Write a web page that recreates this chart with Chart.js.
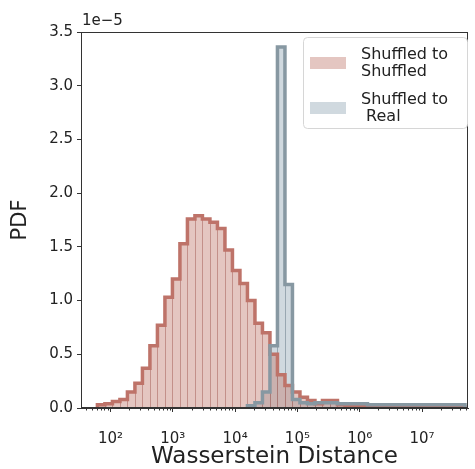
<!DOCTYPE html>
<html>
<head>
<meta charset="utf-8">
<title>Wasserstein distance histogram</title>
<script src="https://cdn.jsdelivr.net/npm/chart.js@4.4.1/dist/chart.umd.min.js"></script>
<style>
    html, body { margin: 0; padding: 0; background: #ffffff; }
    #wrap { width: 475px; height: 469px; }
</style>
</head>
<body>
<div id="wrap"><canvas id="histChart" width="475" height="469"></canvas></div>
<script>
// Log-spaced histogram bins shared by both series (log10 of the distance)
const binStartLog = 1.79;
const binWidthLog = 0.1204;

// PDF per bin, in units of 1e-5
const shuffledToShuffled = [
    0.03, 0.04, 0.06, 0.08, 0.15, 0.23, 0.37, 0.58, 0.77, 1.03,
    1.20, 1.53, 1.76, 1.79, 1.76, 1.73, 1.67, 1.47, 1.28, 1.16,
    1.00, 0.79, 0.70, 0.50, 0.31, 0.21, 0.15, 0.10, 0.07, 0.04,
    0.07, 0.07, 0.03, 0.02, 0.02, 0.02, 0.02, 0.02, 0.02, 0.02,
    0.01, 0.01, 0.01, 0.01, 0.01, 0.01, 0.01, 0.01, 0.01
];
const shuffledToReal = [
    0, 0, 0, 0, 0, 0, 0, 0, 0, 0,
    0, 0, 0, 0, 0, 0, 0, 0, 0, 0,
    0.02, 0.05, 0.15, 0.58, 3.36, 1.15, 0.08, 0.05, 0.04, 0.05,
    0.05, 0.05, 0.04, 0.04, 0.04, 0.04, 0.03, 0.03, 0.03, 0.03,
    0.03, 0.03, 0.03, 0.03, 0.03, 0.03, 0.03, 0.03, 0.03
];

const legendLines = [['Shuffled to', 'Shuffled'], ['Shuffled to', ' Real']];
const xTickExponents = [2, 3, 4, 5, 6, 7];
const xRangeLog = [1.5265, 7.738];
const yMax = 3.5;
const yStep = 0.5;
const offsetText = '1e\u22125';

const FONT = '"DejaVu Sans", sans-serif';
const redFill = 'rgba(196, 128, 118, 0.45)';
const redLine = '#be7369';
const greyFill = 'rgba(150, 170, 185, 0.45)';
const greyLine = '#8798a2';

function binEdge(i) {
    return Math.pow(10, binStartLog + i * binWidthLog);
}

// step outline points: up at the first filled bin, down after the last one
function histPoints(values) {
    let first = 0;
    while (first < values.length && values[first] === 0) first++;
    let last = values.length - 1;
    while (last > first && values[last] === 0) last--;
    const pts = [{ x: binEdge(first), y: 0 }];
    for (let i = first; i <= last; i++) {
        pts.push({ x: binEdge(i), y: values[i] });
    }
    pts.push({ x: binEdge(last + 1), y: 0 });
    return pts;
}

const supDigits = { '0': '\u2070', '1': '\u00b9', '2': '\u00b2', '3': '\u00b3', '4': '\u2074',
    '5': '\u2075', '6': '\u2076', '7': '\u2077', '8': '\u2078', '9': '\u2079' };
function powerLabel(exp) {
    return '10' + String(exp).split('').map(d => supDigits[d]).join('');
}

// thin bar edges inside each filled histogram
const binEdgeLines = {
    id: 'binEdgeLines',
    afterDatasetDraw(chart, args) {
        const ds = chart.data.datasets[args.index];
        if (!ds.binValues) return;
        const { ctx } = chart;
        const x = chart.scales.x, y = chart.scales.y;
        const vals = ds.binValues;
        ctx.save();
        ctx.strokeStyle = ds.edgeColor;
        ctx.lineWidth = 1;
        for (let i = 1; i < vals.length; i++) {
            const h = Math.max(vals[i - 1], vals[i]);
            if (h <= 0) continue;
            const px = Math.round(x.getPixelForValue(binEdge(i))) + 0.5;
            ctx.beginPath();
            ctx.moveTo(px, y.getPixelForValue(0));
            ctx.lineTo(px, y.getPixelForValue(Math.min(vals[i - 1], vals[i]) || h));
            ctx.stroke();
        }
        ctx.restore();
    }
};

// axes frame, log minor ticks, offset text and legend box
const decorations = {
    id: 'decorations',
    afterDatasetsDraw(chart) {
        const { ctx, chartArea: a } = chart;
        const x = chart.scales.x;
        ctx.save();
        ctx.strokeStyle = '#333333';
        ctx.lineWidth = 1;
        ctx.strokeRect(a.left + 0.5, a.top + 0.5, a.right - a.left - 1, a.bottom - a.top - 1);
        for (let n = 1; n <= 7; n++) {
            for (let k = 2; k <= 9; k++) {
                const v = k * Math.pow(10, n);
                if (v < x.min || v > x.max) continue;
                const px = Math.round(x.getPixelForValue(v)) + 0.5;
                ctx.beginPath();
                ctx.moveTo(px, a.bottom);
                ctx.lineTo(px, a.bottom + 2.5);
                ctx.stroke();
            }
        }
        ctx.restore();
    },
    afterDraw(chart) {
        const { ctx, chartArea: a } = chart;
        ctx.save();
        ctx.fillStyle = '#222222';
        ctx.font = '15px ' + FONT;
        ctx.textAlign = 'left';
        ctx.textBaseline = 'bottom';
        ctx.fillText(offsetText, a.left + 1, a.top - 3);

        // legend
        const bw = 164, bh = 91;
        const bx = a.right - bw - 1, by = a.top + 5;
        ctx.beginPath();
        ctx.roundRect(bx + 0.5, by + 0.5, bw, bh, 4);
        ctx.fillStyle = 'rgba(255, 255, 255, 0.8)';
        ctx.fill();
        ctx.strokeStyle = '#d6d6d6';
        ctx.stroke();

        const fills = [redFill, greyFill];
        ctx.font = '16px ' + FONT;
        ctx.textBaseline = 'middle';
        legendLines.forEach((lines, i) => {
            const top = by + 18 + i * 45;
            ctx.fillStyle = '#ffffff';
            ctx.fillRect(bx + 7, top + 2, 36, 12);
            ctx.fillStyle = fills[i];
            ctx.fillRect(bx + 7, top + 2, 36, 12);
            ctx.fillStyle = '#222222';
            lines.forEach((t, j) => ctx.fillText(t, bx + 58, top + j * 16.5));
        });
        ctx.restore();
    }
};

const redPts = histPoints(shuffledToShuffled);
const greyPts = histPoints(shuffledToReal);

new Chart(document.getElementById('histChart'), {
    type: 'line',
    data: {
        datasets: [
            { label: 'Shuffled to Real', data: greyPts, stepped: true, fill: false,
              borderColor: greyLine, borderWidth: 3.5, pointRadius: 0, order: 0 },
            { label: 'Shuffled to Shuffled', data: redPts, stepped: true, fill: false,
              borderColor: redLine, borderWidth: 3.5, pointRadius: 0, order: 1 },
            { label: 'red fill', data: redPts, stepped: true, fill: 'origin',
              backgroundColor: redFill, borderWidth: 0, pointRadius: 0, order: 2,
              binValues: shuffledToShuffled, edgeColor: 'rgba(170, 100, 92, 0.55)' },
            { label: 'grey fill', data: greyPts, stepped: true, fill: 'origin',
              backgroundColor: greyFill, borderWidth: 0, pointRadius: 0, order: 3,
              binValues: shuffledToReal, edgeColor: 'rgba(110, 128, 140, 0.55)' }
        ]
    },
    options: {
        responsive: false,
        animation: false,
        devicePixelRatio: 1,
        layout: { padding: { top: 32, right: 7, left: 0, bottom: 0 } },
        plugins: {
            legend: { display: false },
            tooltip: { enabled: false }
        },
        scales: {
            x: {
                type: 'logarithmic',
                min: Math.pow(10, xRangeLog[0]),
                max: Math.pow(10, xRangeLog[1]),
                afterFit: s => { s.height = 61; },
                afterBuildTicks: s => { s.ticks = xTickExponents.map(e => ({ value: Math.pow(10, e) })); },
                ticks: {
                    autoSkip: false,
                    maxRotation: 0,
                    padding: 18,
                    color: '#222222',
                    font: { family: FONT, size: 15 },
                    callback: v => powerLabel(Math.round(Math.log10(v)))
                },
                grid: { drawOnChartArea: false, tickLength: 4, tickColor: '#333333' },
                border: { color: '#333333' },
                title: {
                    display: true,
                    text: 'Wasserstein Distance',
                    color: '#222222',
                    font: { family: FONT, size: 23, lineHeight: 1.0 },
                    padding: { top: 0, bottom: 0 }
                }
            },
            y: {
                min: 0,
                max: yMax,
                afterFit: s => { s.width = 81; },
                ticks: {
                    stepSize: yStep,
                    padding: 4,
                    color: '#222222',
                    font: { family: FONT, size: 15 },
                    callback: v => v.toFixed(1)
                },
                grid: { drawOnChartArea: false, tickLength: 4, tickColor: '#333333' },
                border: { color: '#333333' },
                title: {
                    display: true,
                    text: 'PDF',
                    color: '#222222',
                    font: { family: FONT, size: 21 },
                    padding: { top: 8, bottom: 0 }
                }
            }
        }
    },
    plugins: [binEdgeLines, decorations]
});
</script>
</body>
</html>
